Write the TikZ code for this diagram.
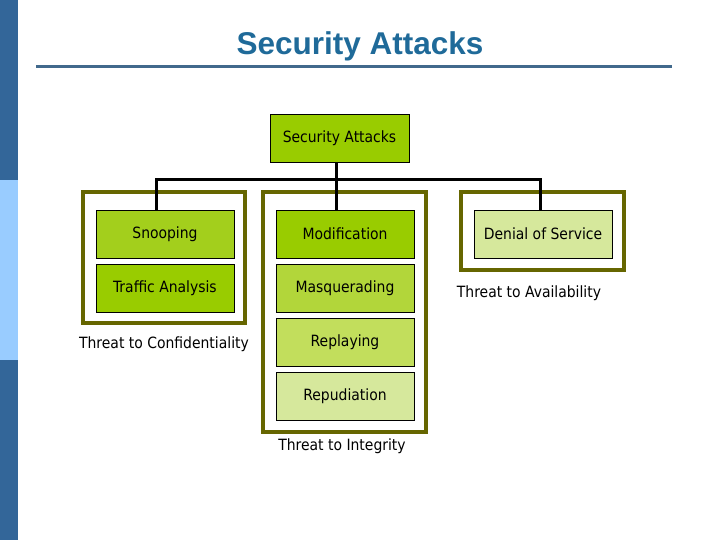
\documentclass[tikz,border=0pt]{standalone}
\usepackage{fontspec}
\setmainfont{Liberation Sans}
\newfontfamily\boxfont{DejaVu Sans Condensed}
\definecolor{darkbar}{HTML}{336699}
\definecolor{lightbar}{HTML}{99CCFF}
\definecolor{titleblue}{HTML}{1F6A99}
\definecolor{rulecol}{HTML}{41698C}
\definecolor{olive}{HTML}{666600}
\definecolor{gA}{HTML}{99CC00}
\definecolor{gB}{HTML}{A3CF1C}
\definecolor{gC}{HTML}{B2D63A}
\definecolor{gD}{HTML}{C2DE5C}
\definecolor{gE}{HTML}{D6E89C}
\tikzset{
  x=1pt, y=-1pt,
  attack/.style={draw=black, line width=0.8pt, minimum width=138pt, minimum height=48pt, inner sep=0pt, font=\boxfont\fontsize{15.5}{17}\selectfont},
  group/.style={draw=olive, line width=4pt},
  caption/.style={inner sep=0pt, font=\boxfont\fontsize{15.5}{17}\selectfont},
  conn/.style={line width=3pt, black}
}
\begin{document}
\begin{tikzpicture}
\useasboundingbox (0,0) rectangle (720,540);
% left bar
\fill[darkbar] (0,0) rectangle (18,180);
\fill[lightbar] (0,180) rectangle (18,360);
\fill[darkbar] (0,360) rectangle (18,540);
% title
\node[font=\bfseries\fontsize{31.5}{34}\selectfont, text=titleblue, inner sep=0pt] (title) at (360,46) {Security Attacks};
\draw[rulecol, line width=3pt] (36,67) -- (672,67);
% groups
\draw[group] (83,192) rectangle (245,323);
\draw[group] (263,192) rectangle (426,432);
\draw[group] (461,192) rectangle (624,270);
% nodes
\node[attack, fill=gA, minimum width=139pt] (root) at (339.5,138) {Security Attacks};
\node[attack, fill=gB] (snoop) at (165,234) {Snooping};
\node[attack, fill=gA] (traffic) at (165,288) {Traffic Analysis};
\node[attack, fill=gA] (modif) at (345,234) {Modification};
\node[attack, fill=gC] (masq) at (345,288) {Masquerading};
\node[attack, fill=gD] (replay) at (345,342) {Replaying};
\node[attack, fill=gE] (repud) at (345,396) {Repudiation};
\node[attack, fill=gE] (dos) at (543,234) {Denial of Service};
% captions
\node[caption] (capC) at (164,344) {Threat to Confidentiality};
\node[caption] (capI) at (342,446) {Threat to Integrity};
\node[caption] (capA) at (529,293) {Threat to Availability};
% connectors
\coordinate (hl) at (156,180);
\coordinate (hr) at (540,180);
\draw[conn] (root.south -| 336,0) -- (modif.north -| 336,0);
\draw[conn, line join=miter] (snoop.north -| hl) -- (hl) -- (hr) -- (dos.north -| hr);
\end{tikzpicture}
\end{document}
